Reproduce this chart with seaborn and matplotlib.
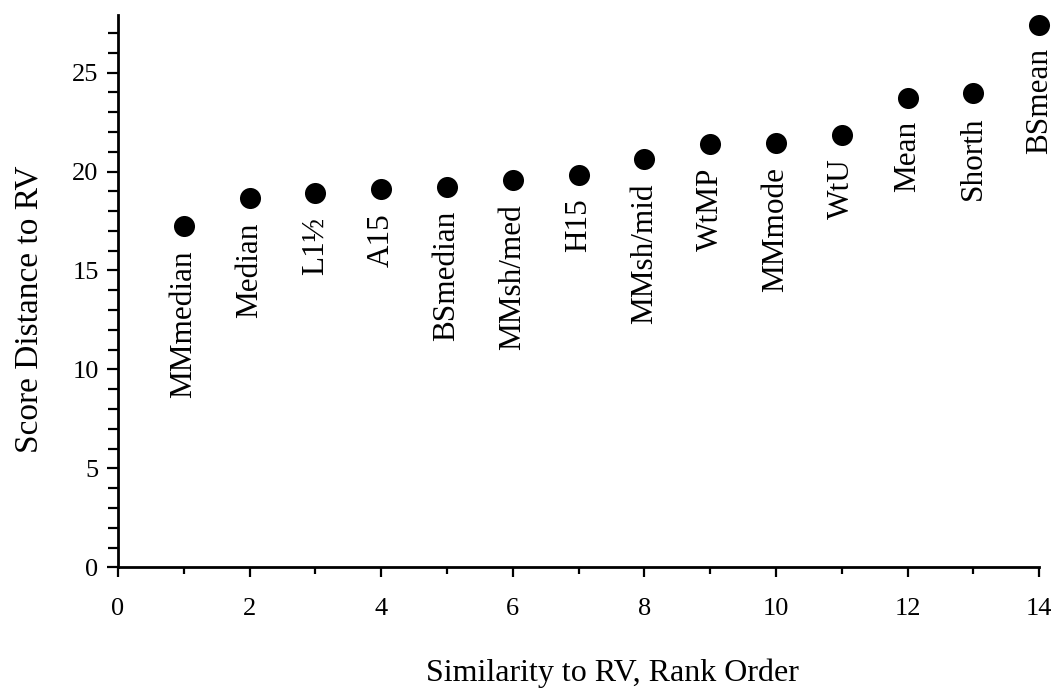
import matplotlib
matplotlib.use("Agg")
import matplotlib.pyplot as plt
from matplotlib.ticker import MultipleLocator
import pandas as pd
import seaborn as sns

# Estimators ranked by similarity to RV
rank = [1, 2, 3, 4, 5, 6, 7, 8, 9, 10, 11, 12, 13, 14]
estimator = ["MMmedian", "Median", "L1½", "A15", "BSmedian", "MMsh/med", "H15",
             "MMsh/mid", "WtMP", "MMmode", "WtU", "Mean", "Shorth", "BSmean"]
distance = [17.23, 18.64, 18.90, 19.10, 19.22, 19.55, 19.85,
            20.61, 21.39, 21.42, 21.87, 23.74, 23.99, 27.42]

df = pd.DataFrame({"rank": rank, "distance": distance, "estimator": estimator})

sns.set_style("ticks")
plt.rcParams["font.family"] = ["Liberation Serif", "DejaVu Serif"]
plt.rcParams["text.color"] = "black"
plt.rcParams["axes.labelcolor"] = "black"
plt.rcParams["xtick.color"] = "black"
plt.rcParams["ytick.color"] = "black"

fig = plt.figure(figsize=(10.54, 6.91), dpi=100)
ax = fig.add_axes([0.112, 0.179, 0.874, 0.799])

sns.scatterplot(data=df, x="rank", y="distance", ax=ax, color="black",
                s=230, edgecolor="black", linewidth=0, zorder=3, clip_on=False)

for r, d, name in zip(df["rank"], df["distance"], df["estimator"]):
    ax.annotate(name, xy=(r, d), xytext=(0, -17), textcoords="offset points",
                rotation=90, ha="center", va="top", fontsize=22.5, color="black")

ax.set_xlim(0, 14)
ax.set_ylim(0, 27.9)
ax.xaxis.set_major_locator(MultipleLocator(2))
ax.xaxis.set_minor_locator(MultipleLocator(1))
ax.yaxis.set_major_locator(MultipleLocator(5))
ax.yaxis.set_minor_locator(MultipleLocator(1))
ax.tick_params(which="major", length=7, width=1.6, labelsize=19, pad=15,
               color="black", labelcolor="black")
ax.tick_params(which="minor", length=5, width=1.6, color="black")
ax.tick_params(axis="y", which="major", length=8, pad=6)
ax.tick_params(axis="y", which="minor", length=7)

for side in ("top", "right"):
    ax.spines[side].set_visible(False)
for side in ("left", "bottom"):
    ax.spines[side].set_linewidth(2)
    ax.spines[side].set_color("black")

ax.set_xlabel("Similarity to RV, Rank Order", fontsize=23)
ax.set_ylabel("Score Distance to RV", fontsize=24, labelpad=20)
ax.xaxis.set_label_coords(0.537, -0.166)
ax.yaxis.label.set_y(0.467)

fig.savefig("out.png", dpi=100)
